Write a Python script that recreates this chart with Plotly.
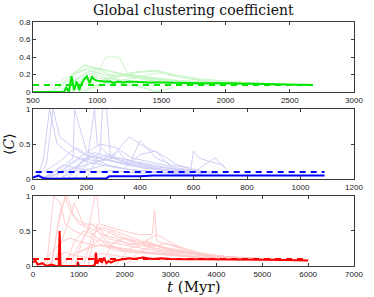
import plotly.graph_objects as go

# ---------------- data ----------------
# Panel 1 (green), x in Myr
green_faint = [
    ([650,750,850,950,1050,1200,1400,1600,1800,2000,2200,2400,2600], [0,0.1,0.22,0.28,0.25,0.2,0.15,0.13,0.12,0.1,0.09,0.09,0.08]),
    ([700,800,900,1000,1070,1170,1250,1400,1600,1800,2000,2300], [0,0.12,0.2,0.22,0.4,0.4,0.18,0.15,0.12,0.11,0.1,0.09]),
    ([600,700,800,900,1000,1100,1300,1500,1700,1900,2100,2400], [0,0.05,0.2,0.3,0.26,0.2,0.17,0.14,0.12,0.1,0.09,0.08]),
    ([750,850,950,1050,1150,1300,1450,1600,1800,2000,2200,2500], [0,0.15,0.25,0.2,0.18,0.22,0.24,0.18,0.14,0.11,0.1,0.09]),
    ([800,900,1000,1100,1200,1350,1500,1700,1900,2150,2450], [0,0.1,0.12,0.15,0.2,0.18,0.12,0.1,0.1,0.09,0.08]),
    ([650,760,860,980,1100,1250,1400,1550,1750,1950,2200], [0.02,0.18,0.1,0.2,0.15,0.12,0.1,0.12,0.1,0.09,0.09]),
    ([900,1000,1100,1200,1300,1400,1500,1650,1800,2000,2300,2550], [0,0.08,0.1,0.14,0.16,0.2,0.22,0.17,0.13,0.1,0.09,0.085]),
    ([700,800,900,1000,1100,1200,1350,1450,1600], [0.05,0.2,0.26,0.22,0.18,0.12,0.06,0,0.05]),
    ([850,950,1050,1150,1250,1400,1550,1750,2000,2250,2500,2650], [0,0.05,0.1,0.12,0.1,0.13,0.12,0.11,0.1,0.09,0.09,0.08]),
    ([750,820,900,980,1080,1200,1300,1500,1700,1900], [0,0.22,0.31,0.28,0.24,0.2,0.16,0.11,0.09,0.08]),
    ([1000,1100,1200,1300,1450,1600,1800,2050,2300], [0.05,0.12,0.2,0.23,0.25,0.2,0.15,0.12,0.1]),
    ([800,880,960,1040,1120,1250,1400,1500], [0,0.15,0.18,0.15,0.12,0.08,0.03,0]),
    ([700,780,860,940,1020,1150,1300,1450,1650,1850,2100,2350], [0,0.08,0.16,0.24,0.27,0.22,0.19,0.16,0.13,0.11,0.1,0.09]),
    ([950,1050,1150,1250,1350,1500,1650,1800,1950,2150,2400], [0,0.15,0.18,0.2,0.18,0.15,0.12,0.11,0.1,0.09,0.085]),
]
green_mean_x = [500,600,700,740,760,780,800,820,840,860,880,900,920,940,960,980,1000,1050,1100,1130,1160,1200,1250,1300,1400,1500,1600,1800,2000,2200,2400,2550,2600,2680]
green_mean_y = [0,0,0,0,0.05,0,0.18,0.02,0.12,0.02,0.1,0.15,0.18,0.1,0.17,0.14,0.13,0.12,0.12,0.1,0.12,0.11,0.12,0.115,0.11,0.11,0.105,0.1,0.1,0.095,0.09,0.09,0.085,0.08]
green_dash_x = [500, 2680]
green_dash_y = [0.08, 0.08]

# Panel 2 (blue)
blue_faint = [
    ([15,40,62,90,140,200,260,330,400,480,560,620], [0,0.3,1,0.5,0.35,0.25,0.2,0.15,0.12,0.1,0.08,0.06]),
    ([20,50,75,100,150,190,240,300,380,450,520,600], [0.05,0.2,1,0.6,0.45,0.35,0.3,0.25,0.2,0.15,0.12,0.1]),
    ([30,80,120,150,155,200,250,300,350,420,500,580], [0,0.1,0.2,0.3,1,0.4,0.3,0.25,0.2,0.15,0.12,0.1]),
    ([50,100,150,200,230,240,280,320,380,450,520,600,680], [0,0.1,0.15,0.2,1,0.5,0.35,0.3,0.25,0.2,0.15,0.12,0.1]),
    ([100,150,200,250,260,275,290,320,360,400,460,520,590,650], [0,0.1,0.3,0.35,1,1,0.3,0.4,0.2,0.55,0.3,0.2,0.15,0.1]),
    ([60,120,180,240,300,360,420,480,540,590,600,620,660,710,730], [0,0.15,0.3,0.25,0.35,0.6,0.45,0.35,0.2,0.15,0.4,0.3,0.25,0.2,0.1]),
    ([40,100,160,220,280,340,400,460,520,580,640], [0.1,0.25,0.45,0.3,0.2,0.15,0.35,0.4,0.15,0.1,0.08]),
    ([80,130,190,250,310,370,430,490,550,610,680,720], [0,0.2,0.35,0.5,0.45,0.3,0.25,0.2,0.15,0.12,0.3,0.15]),
    ([20,70,120,170,220,270,330,390,450,510,570], [0,0.05,0.1,0.12,0.15,0.2,0.15,0.12,0.1,0.08,0.06]),
    ([150,200,250,300,350,400,450,500,560,620], [0,0.2,0.25,0.3,0.28,0.22,0.18,0.15,0.12,0.1]),
    ([200,240,280,330,380,440,500,560], [0,0.3,0.35,0.25,0.2,0.15,0.12,0.1]),
    ([10,60,110,170,230,290,350,410,470,530,590,640], [0,0.05,0.2,0.15,0.1,0.12,0.1,0.08,0.1,0.08,0.07,0.06]),
    ([100,160,220,280,340,400,460,520,580,640,700], [0,0.18,0.32,0.28,0.22,0.18,0.15,0.12,0.1,0.08,0.07]),
    ([130,180,230,290,350,410,470,530,590], [0,0.25,0.38,0.3,0.25,0.2,0.14,0.1,0.08]),
]
blue_mean_x = [0,10,20,30,40,60,100,150,200,250,275,285,300,320,350,400,450,500,600,700,800,900,1000,1090]
blue_mean_y = [0.02,0.04,0.05,0.03,0.01,0.005,0.005,0.005,0.005,0.005,0.01,0.04,0.04,0.04,0.03,0.04,0.05,0.05,0.05,0.05,0.06,0.06,0.055,0.05]
blue_dash_x = [10, 1090]
blue_dash_y = [0.1, 0.1]

# Panel 3 (red)
red_faint = [
    ([300,450,600,700,900,1100,1300,1500,1800,2100,2500,3000,3500,4000,4500,5000], [0,1,0.9,0.6,0.5,0.45,0.4,0.3,0.25,0.2,0.18,0.15,0.12,0.1,0.1,0.09]),
    ([400,550,700,800,1000,1200,1400,1600,2000,2400,2800,3300,3800,4300,4900], [0,0.6,1,0.8,0.6,0.55,0.5,0.35,0.3,0.25,0.2,0.15,0.12,0.1,0.09]),
    ([800,1000,1200,1350,1400,1450,1700,2000,2300,2600,2650,2700,3000,3400,3900,4500,5200], [0,0.3,0.5,1,1,0.6,0.55,0.5,0.45,0.45,0.8,0.35,0.3,0.2,0.15,0.12,0.1]),
    ([500,700,900,1100,1300,1500,1800,2100,2500,2900,3300,3700,4200,4800,5400], [0.1,0.5,0.9,0.6,0.6,0.45,0.4,0.3,0.35,0.25,0.2,0.15,0.12,0.1,0.09]),
    ([200,400,650,800,1000,1300,1600,2000,2400,2800,3200,3600,4000,4600], [0,0.2,0.35,0.4,0.35,0.3,0.28,0.25,0.2,0.18,0.15,0.12,0.11,0.1]),
    ([900,1100,1250,1400,1600,1900,2200,2600,3000,3400,3800,4300,4800,5300], [0,0.4,0.6,0.55,0.5,0.4,0.35,0.3,0.25,0.2,0.15,0.12,0.11,0.1]),
    ([1000,1300,1500,1700,2000,2300,2700,3100,3500,3900,4400,5000], [0.2,0.3,0.4,0.5,0.4,0.3,0.25,0.2,0.18,0.15,0.12,0.1]),
    ([600,800,1000,1200,1500,1800,2200,2600,3000,3400,3900,4400,4900,5500], [0,0.15,0.2,0.25,0.3,0.22,0.2,0.18,0.15,0.13,0.12,0.11,0.1,0.09]),
    ([1200,1400,1600,1900,2300,2700,3100,3500,4000,4500,5100], [0,0.6,0.4,0.35,0.3,0.45,0.3,0.2,0.15,0.12,0.1]),
    ([700,900,1100,1300,1600,1900,2200,2500,2900,3300,3700,4100], [0,0.35,0.5,0.45,0.3,0.25,0.22,0.2,0.17,0.14,0.12,0.1]),
    ([1500,1700,2000,2300,2600,2900,3200,3600,4100,4700,5300], [0,0.3,0.4,0.35,0.25,0.2,0.18,0.15,0.12,0.1,0.09]),
    ([300,500,700,900,1200,1500,1800,2100,2500,3000,3500], [0,0.1,0.2,0.15,0.12,0.18,0.15,0.12,0.1,0.09,0.08]),
    ([1800,2100,2400,2700,3000,3400,3800,4200,4700,5200], [0,0.25,0.3,0.28,0.22,0.2,0.16,0.13,0.11,0.1]),
    ([400,600,750,900,1100,1400,1700,2000], [0,0.8,1,0.7,0.6,0.4,0.3,0.2]),
    ([1100,1300,1500,1800,2100,2400,2800,3200,3700,4200,4800], [0,0.45,0.55,0.5,0.42,0.35,0.28,0.2,0.15,0.12,0.1]),
    ([2000,2300,2600,2900,3300,3700,4100,4600,5100,5500], [0,0.2,0.28,0.32,0.25,0.18,0.14,0.12,0.1,0.09]),
]
red_mean_x = [0,50,100,200,300,400,500,560,580,600,700,800,900,960,980,1000,1100,1200,1300,1350,1370,1400,1450,1500,1550,1600,1650,1700,1800,1900,2000,2100,2200,2400,2600,2800,3000,3500,4000,4500,5000,5500,6000]
red_mean_y = [0.05,0.08,0.02,0.04,0.0,0.02,0.0,0.0,0.5,0.0,0.0,0.0,0.0,0.0,0.06,0.0,0.0,0.0,0.0,0.02,0.19,0.03,0.1,0.05,0.12,0.04,0.07,0.05,0.08,0.09,0.1,0.11,0.1,0.12,0.1,0.11,0.1,0.1,0.1,0.095,0.09,0.085,0.08]
red_dash_x = [0, 6000]
red_dash_y = [0.1, 0.1]

# tick labels
x1_ticks = [500, 1000, 1500, 2000, 2500, 3000]
y1_ticks = [0, 0.2, 0.4, 0.6, 0.8]
y1_text = ["0", "0.2", "0.4", "0.6", "0.8"]
x2_ticks = [0, 200, 400, 600, 800, 1000, 1200]
x3_ticks = [0, 1000, 2000, 3000, 4000, 5000, 6000, 7000]
y23_ticks = [0, 0.5, 1]
y23_text = ["0", "0.5", "1"]

# ---------------- figure ----------------
fig = go.Figure()

panels = [
    (green_faint, green_mean_x, green_mean_y, green_dash_x, green_dash_y, "#c8f5c8", "#00e600", "x", "y"),
    (blue_faint, blue_mean_x, blue_mean_y, blue_dash_x, blue_dash_y, "#cfcff7", "#0000ff", "x2", "y2"),
    (red_faint, red_mean_x, red_mean_y, red_dash_x, red_dash_y, "#ffcccc", "#ff0000", "x3", "y3"),
]
for faint, mx, my, dx, dy, fcol, mcol, xa, ya in panels:
    for fx, fy in faint:
        fig.add_trace(go.Scatter(x=fx, y=fy, mode="lines", line=dict(color=fcol, width=1),
                                 xaxis=xa, yaxis=ya, showlegend=False, hoverinfo="skip"))
    fig.add_trace(go.Scatter(x=dx, y=dy, mode="lines", line=dict(color=mcol, width=2, dash="6px,5px"),
                             xaxis=xa, yaxis=ya, showlegend=False))
    fig.add_trace(go.Scatter(x=mx, y=my, mode="lines", line=dict(color=mcol, width=2),
                             xaxis=xa, yaxis=ya, showlegend=False))

axis_common = dict(showgrid=False, zeroline=False, showline=True, mirror="ticks",
                   linecolor="#3a3a3a", linewidth=1, ticks="inside", ticklen=3,
                   tickcolor="#3a3a3a", tickfont=dict(family="Liberation Sans, Arial", size=8, color="#222"))

fig.update_layout(
    width=374, height=297,
    margin=dict(l=33, r=11, t=22, b=31),
    paper_bgcolor="white", plot_bgcolor="white",
    xaxis=dict(domain=[0, 1], range=[500, 3000], tickvals=x1_ticks, anchor="y", **axis_common),
    yaxis=dict(domain=[0.7131, 1], range=[0, 0.8], tickvals=y1_ticks, ticktext=y1_text, anchor="x", **axis_common),
    xaxis2=dict(domain=[0, 1], range=[0, 1200], tickvals=x2_ticks, anchor="y2", **axis_common),
    yaxis2=dict(domain=[0.3566, 0.6434], range=[0, 1], tickvals=y23_ticks, ticktext=y23_text, anchor="x2", **axis_common),
    xaxis3=dict(domain=[0, 1], range=[0, 7000], tickvals=x3_ticks, anchor="y3", **axis_common),
    yaxis3=dict(domain=[0, 0.2869], range=[0, 1], tickvals=y23_ticks, ticktext=y23_text, anchor="x3", **axis_common),
    annotations=[
        dict(text="Global clustering coefficient", xref="paper", yref="paper", x=0.5, y=1,
             yshift=12, showarrow=False, yanchor="middle",
             font=dict(family="DejaVu Serif, Liberation Serif", size=14, color="#111")),
        dict(text="<i>t</i> (Myr)", xref="paper", yref="paper", x=0.5, y=0, yshift=-21,
             showarrow=False, yanchor="middle",
             font=dict(family="DejaVu Serif, Liberation Serif", size=15, color="#111")),
        dict(text="⟨<i>C</i>⟩", xref="paper", yref="paper", x=0, xshift=-24, y=0.5,
             showarrow=False, textangle=-90, xanchor="center", yanchor="middle",
             font=dict(family="DejaVu Serif, Liberation Serif", size=14, color="#111")),
    ],
)

fig.write_html("out.html", config={"displayModeBar": False},
               post_script="document.body.style.margin='0';document.body.style.overflow='hidden';")
